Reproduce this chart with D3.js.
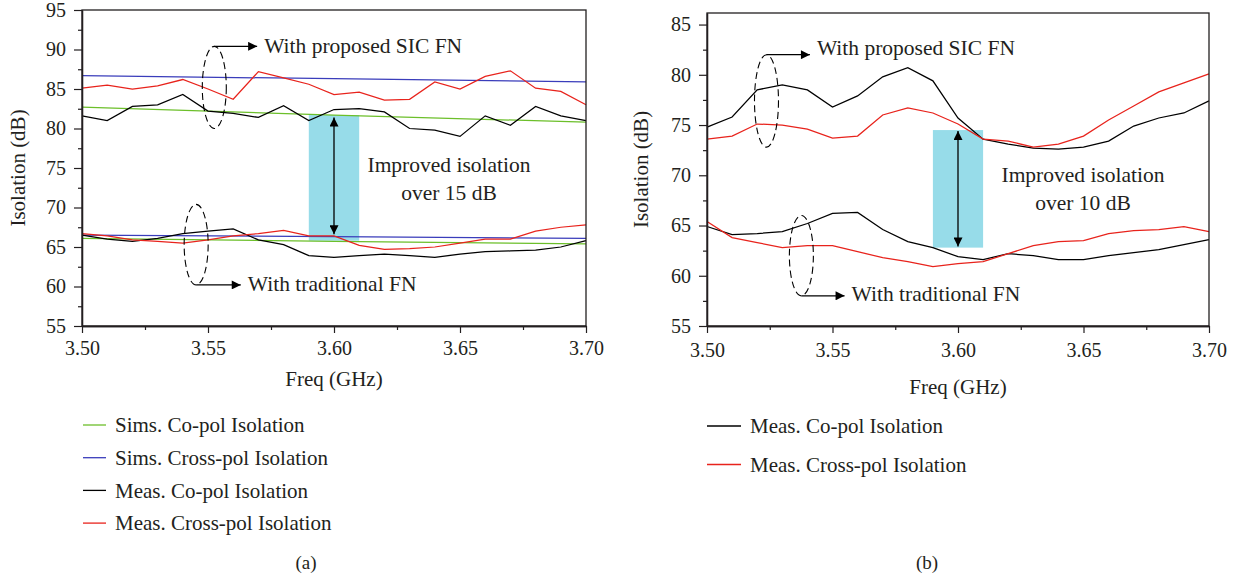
<!DOCTYPE html>
<html><head><meta charset="utf-8">
<script src="https://cdn.jsdelivr.net/npm/d3@7"></script>
<style>
body{margin:0;background:#fff}
svg{display:block}
text{font-family:"Liberation Serif","Times New Roman",serif;fill:#231f20}
</style>
</head><body>
<svg id="c" width="1243" height="579" font-family="Liberation Serif, serif"></svg>
<script>
// ---------- data ----------
const freq = [3.50,3.51,3.52,3.53,3.54,3.55,3.56,3.57,3.58,3.59,3.60,3.61,3.62,3.63,3.64,3.65,3.66,3.67,3.68,3.69,3.70];
const simFreq = [3.50,3.60,3.70];
const xTicks = [3.50,3.55,3.60,3.65,3.70];
const xTickLabels = ["3.50","3.55","3.60","3.65","3.70"];
const yTicksA = [55,60,65,70,75,80,85,90,95];
const yTicksB = [55,60,65,70,75,80,85];

// panel (a)
const aSimsCoUp    = [82.7,81.7,80.8];
const aSimsCoLow   = [66.1,65.7,65.4];
const aSimsCrossUp = [86.7,86.3,85.9];
const aSimsCrossLow= [66.5,66.3,66.1];
const aMeasCoUp    = [81.6,81.0,82.8,83.0,84.3,82.2,81.9,81.4,82.9,81.0,82.4,82.5,82.1,80.0,79.8,79.0,81.6,80.4,82.8,81.6,81.0];
const aMeasCrossUp = [85.1,85.5,85.0,85.4,86.2,85.0,83.7,87.2,86.4,85.6,84.3,84.6,83.6,83.7,85.9,85.0,86.6,87.3,85.1,84.7,83.0];
const aMeasCoLow   = [66.5,66.0,65.7,66.1,66.7,67.0,67.3,65.9,65.3,63.9,63.7,63.9,64.1,63.9,63.7,64.1,64.4,64.5,64.6,65.0,65.8];
const aMeasCrossLow= [66.7,66.4,65.9,65.7,65.5,65.9,66.4,66.7,67.1,66.4,66.4,65.2,64.7,64.8,65.0,65.5,66.0,66.0,67.0,67.5,67.8];

// panel (b)
const bMeasCoUp    = [74.8,75.8,78.5,79.0,78.5,76.8,77.9,79.8,80.7,79.4,75.7,73.6,73.1,72.7,72.6,72.8,73.4,74.9,75.7,76.2,77.4];
const bMeasCrossUp = [73.6,73.9,75.1,75.0,74.6,73.7,73.9,76.0,76.7,76.2,75.1,73.6,73.4,72.8,73.1,73.9,75.5,76.9,78.3,79.2,80.1];
const bMeasCoLow   = [64.9,64.1,64.2,64.4,65.2,66.2,66.3,64.6,63.4,62.8,61.9,61.6,62.2,62.0,61.6,61.6,62.0,62.3,62.6,63.1,63.6];
const bMeasCrossLow= [65.4,63.8,63.3,62.8,63.0,63.0,62.4,61.8,61.4,60.9,61.2,61.4,62.2,63.0,63.4,63.5,64.2,64.5,64.6,64.9,64.4];

const legendA = ["Sims. Co-pol Isolation","Sims. Cross-pol Isolation","Meas. Co-pol Isolation","Meas. Cross-pol Isolation"];
const legendB = ["Meas. Co-pol Isolation","Meas. Cross-pol Isolation"];

const GREEN="#6cbf2a", BLUE="#3a3dbb", BLACK="#000000", RED="#e8231c", CYAN="#97dce9";
const FONT='"Liberation Serif","Times New Roman",serif';

// ---------- drawing ----------
const svg = d3.select("#c");
const defs = svg.append("defs");
defs.append("marker").attr("id","ah").attr("viewBox","0 0 10 10").attr("refX",10).attr("refY",5)
  .attr("markerWidth",11).attr("markerHeight",9).attr("markerUnits","userSpaceOnUse")
  .attr("orient","auto-start-reverse")
  .append("path").attr("d","M0,0 L10,5 L0,10 Z").attr("fill","#000");

function txt(g){ return g.append("text").style("font-family",FONT).attr("fill","#231f20"); }

function panel(cfg){
  const x = d3.scaleLinear().domain([3.50,3.70]).range(cfg.xr);
  const y = d3.scaleLinear().domain(cfg.yd).range(cfg.yr);
  const g = svg.append("g");
  const x0=cfg.xr[0], x1=cfg.xr[1], yb=cfg.yr[0], yt=cfg.yr[1];

  // highlight box
  const hb = cfg.box;
  g.append("rect").attr("x",x(hb.x0)).attr("width",x(hb.x1)-x(hb.x0))
    .attr("y",y(hb.yTop)).attr("height",y(hb.yBot)-y(hb.yTop)).attr("fill",CYAN);

  const line = d3.line().x(d=>x(d[0])).y(d=>y(d[1]));
  cfg.series.forEach(s=>{
    g.append("path").datum(d3.zip(s.f,s.v)).attr("d",line)
      .attr("fill","none").attr("stroke",s.c).attr("stroke-width",1.25);
  });

  // double arrow
  g.append("line").attr("x1",x(3.60)).attr("x2",x(3.60))
    .attr("y1",y(hb.aTop)).attr("y2",y(hb.aBot))
    .attr("stroke","#000").attr("stroke-width",1.3)
    .attr("marker-start","url(#ah)").attr("marker-end","url(#ah)");

  // frame
  g.append("rect").attr("x",x0).attr("y",yt).attr("width",x1-x0).attr("height",yb-yt)
    .attr("fill","none").attr("stroke","#231f20").attr("stroke-width",1.3);

  // axes
  g.append("g").attr("transform",`translate(0,${yb})`)
    .call(d3.axisBottom(x).tickValues(xTicks).tickFormat((d,i)=>xTickLabels[i]).tickSize(7).tickSizeOuter(0).tickPadding(cfg.xPad));
  g.append("g").attr("transform",`translate(0,${yb})`)
    .call(d3.axisBottom(x).tickValues([3.525,3.575,3.625,3.675]).tickFormat("").tickSize(4).tickSizeOuter(0));
  g.append("g").attr("transform",`translate(${x0},0)`)
    .call(d3.axisLeft(y).tickValues(cfg.yt).tickSize(8).tickSizeOuter(0).tickPadding(8));
  g.append("g").attr("transform",`translate(${x0},0)`)
    .call(d3.axisLeft(y).tickValues(cfg.yt.slice(0,-1).map(v=>v+2.5)).tickFormat("").tickSize(4).tickSizeOuter(0));
  g.selectAll(".domain").attr("stroke","#231f20").attr("stroke-width",1.3);
  g.selectAll(".tick line").attr("stroke","#231f20").attr("stroke-width",1.2);
  g.selectAll(".tick text").style("font-size","20px").attr("fill","#231f20").style("font-family",FONT);

  // axis titles
  txt(g).attr("x",(x0+x1)/2).attr("y",cfg.xlabY).attr("text-anchor","middle")
    .style("font-size","21px").text("Freq (GHz)");
  txt(g).attr("transform",`translate(${cfg.ylabX},${(yb+yt)/2}) rotate(-90)`)
    .attr("text-anchor","middle").attr("dy","0.35em").style("font-size","21px").text("Isolation (dB)");

  // ellipses with arrows & labels
  cfg.ellipses.forEach(e=>{
    const cx=x(e.f), cy=y(e.yc), ry=y(e.yc-e.ry)-cy;
    g.append("ellipse").attr("cx",cx).attr("cy",cy).attr("rx",e.rx).attr("ry",ry)
      .attr("fill","none").attr("stroke","#000").attr("stroke-width",1.1).attr("stroke-dasharray","7,4");
    const ay = e.top ? cy-ry : cy+ry;
    g.append("line").attr("x1",cx).attr("y1",ay).attr("x2",x(e.aEnd)).attr("y2",ay)
      .attr("stroke","#000").attr("stroke-width",1.2).attr("marker-end","url(#ah)");
    txt(g).attr("x",x(e.aEnd)+7).attr("y",ay+e.dy).attr("dy","0.35em")
      .style("font-size","21.5px").text(e.label);
  });

  // improved isolation text
  txt(g).attr("x",cfg.impX).attr("y",cfg.impY).attr("text-anchor","middle")
    .style("font-size","21.5px").text("Improved isolation");
  txt(g).attr("x",cfg.impX).attr("y",cfg.impY+28).attr("text-anchor","middle")
    .style("font-size","21.5px").text(cfg.impText);

  // legend
  cfg.legend.forEach((l,i)=>{
    const ly = cfg.legY + i*cfg.legDy;
    g.append("line").attr("x1",cfg.legX).attr("x2",cfg.legX+cfg.legL).attr("y1",ly).attr("y2",ly)
      .attr("stroke",l.c).attr("stroke-width",1.3);
    txt(g).attr("x",cfg.legX+cfg.legL+cfg.legGap).attr("y",ly).attr("dy","0.35em")
      .style("font-size","21px").text(l.t);
  });

  txt(g).attr("x",cfg.capX).attr("y",562).attr("text-anchor","middle").attr("dy","0.35em")
    .style("font-size","19px").text(cfg.cap);
}

panel({
  xr:[82,586], yd:[55,95], yr:[326,10], yt:yTicksA, xPad:8,
  series:[
    {f:simFreq,v:aSimsCoUp,c:GREEN},{f:simFreq,v:aSimsCoLow,c:GREEN},
    {f:simFreq,v:aSimsCrossUp,c:BLUE},{f:simFreq,v:aSimsCrossLow,c:BLUE},
    {f:freq,v:aMeasCoUp,c:BLACK},{f:freq,v:aMeasCoLow,c:BLACK},
    {f:freq,v:aMeasCrossUp,c:RED},{f:freq,v:aMeasCrossLow,c:RED}
  ],
  box:{x0:3.59,x1:3.61,yTop:81.7,yBot:65.8,aTop:81.4,aBot:66.6},
  ellipses:[
    {f:3.5525,yc:85.2,ry:5.2,rx:12,top:true,aEnd:3.5695,label:"With proposed SIC FN",dy:-1},
    {f:3.5453,yc:65.3,ry:5.1,rx:12,top:false,aEnd:3.5630,label:"With traditional FN",dy:-1}
  ],
  impX:449, impY:172, impText:"over 15 dB",
  xlabY:386, ylabX:18,
  legend:[{t:legendA[0],c:GREEN},{t:legendA[1],c:BLUE},{t:legendA[2],c:BLACK},{t:legendA[3],c:RED}],
  legX:83, legL:23, legGap:9, legY:425, legDy:32.7,
  cap:"(a)", capX:306
});

panel({
  xr:[707,1209], yd:[55,86.15], yr:[326,13], yt:yTicksB, xPad:10,
  series:[
    {f:freq,v:bMeasCoUp,c:BLACK},{f:freq,v:bMeasCoLow,c:BLACK},
    {f:freq,v:bMeasCrossUp,c:RED},{f:freq,v:bMeasCrossLow,c:RED}
  ],
  box:{x0:3.59,x1:3.61,yTop:74.5,yBot:62.8,aTop:74.4,aBot:62.9},
  ellipses:[
    {f:3.5237,yc:77.4,ry:4.6,rx:12,top:true,aEnd:3.5410,label:"With proposed SIC FN",dy:-7},
    {f:3.5376,yc:62.0,ry:4.0,rx:12,top:false,aEnd:3.5548,label:"With traditional FN",dy:-2}
  ],
  impX:1083, impY:182, impText:"over 10 dB",
  xlabY:394, ylabX:641,
  legend:[{t:legendB[0],c:BLACK},{t:legendB[1],c:RED}],
  legX:707, legL:34, legGap:9, legY:426, legDy:38.5,
  cap:"(b)", capX:927
});
</script>
</body></html>
